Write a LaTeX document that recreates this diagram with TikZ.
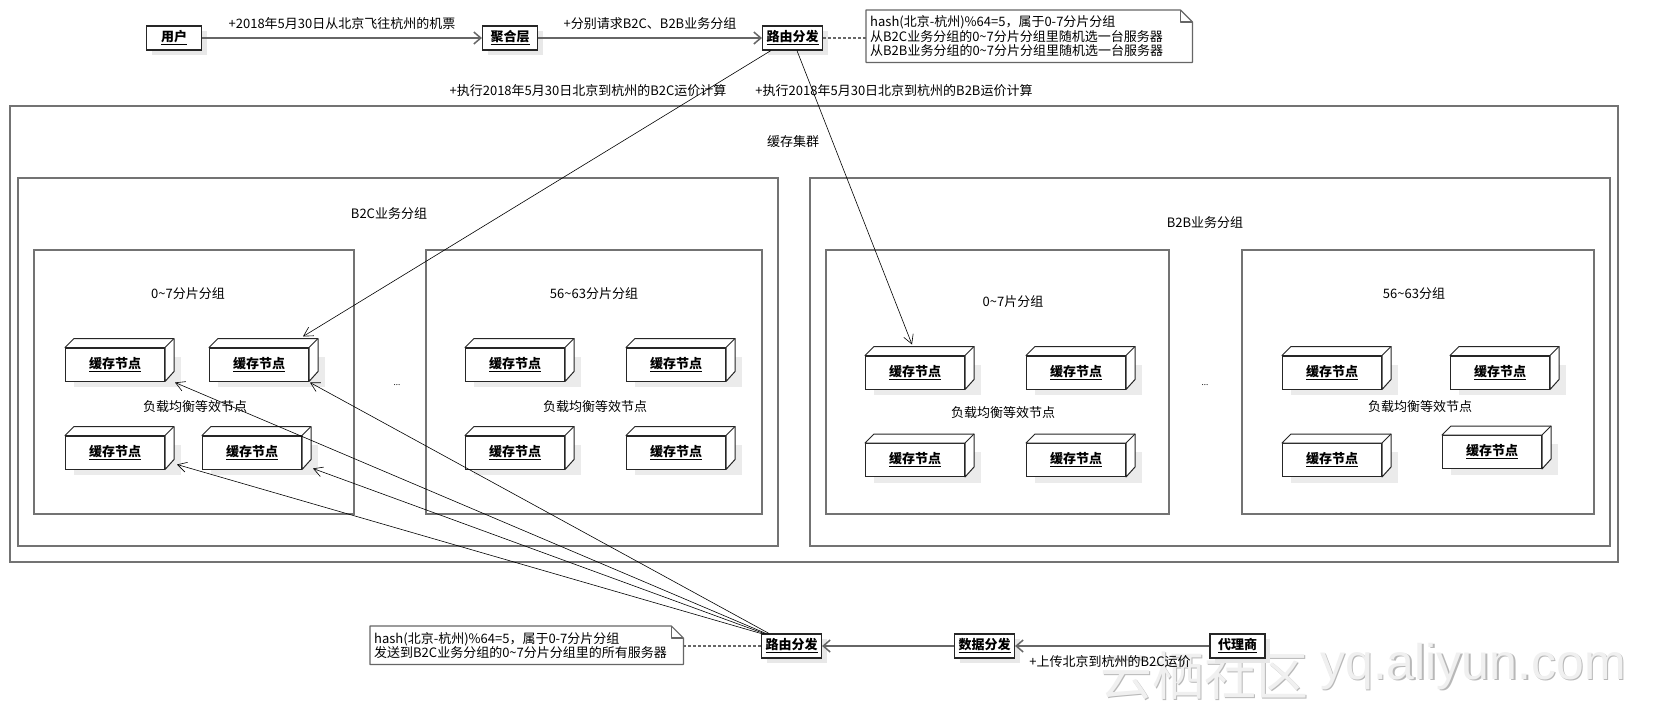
\documentclass[tikz,border=0pt]{standalone}
\usepackage{fontspec}
\setmainfont{Noto Sans CJK SC}
\newfontfamily\wmfont{Liberation Sans}
\usetikzlibrary{arrows.meta,calc,shadows,backgrounds}
\newcommand\mkcache[3]{%
  \fill[black!8] (#2-41,#3-8) rectangle (#2+66,#3+22.5);
  \node[cnode] (#1) at (#2,#3) {\underline{缓存节点}};
  \filldraw[cedge] (#1.north west) -- ++(9,-9) -- ($(#1.north east)+(9,-9)$) -- ++(0,33) -- (#1.south east) -- (#1.north east) -- cycle;
  \draw[cedge] (#1.north east) -- ++(9,-9);
}
\newcommand\mknote[1]{%
  \draw[notel] (#1.north west) -- ($(#1.north east)+(-12,0)$) -- ($(#1.north east)+(0,12)$) -- (#1.south east) -- (#1.south west) -- cycle;
  \draw[notel, fill=none] ($(#1.north east)+(-12,0)$) -- ($(#1.north east)+(-12,12)$) -- ($(#1.north east)+(0,12)$);
}
\begin{document}
\begin{tikzpicture}[x=1pt,y=-1pt,
  font=\fontsize{13}{14.2}\selectfont,
  grp/.style={draw=black!55, line width=1.4pt},
  lbl/.style={inner sep=0pt, anchor=center},
  ubox/.style={draw=black!85, line width=1.1pt, fill=white, minimum width=55pt, minimum height=24pt, inner xsep=4pt, inner ysep=2pt, font=\fontsize{13}{14}\selectfont\bfseries, drop shadow={shadow xshift=5pt, shadow yshift=-5pt, fill=black!9, opacity=1}},
  cnode/.style={draw=black!85, line width=1pt, fill=white, minimum width=99pt, minimum height=33pt, inner sep=0pt, font=\fontsize{13}{14}\selectfont\bfseries},
  cedge/.style={draw=black!85, fill=white, line width=1pt, line join=round},
  flow/.style={draw=black!60, line width=1.5pt, -{Straight Barb[length=7pt,width=12pt]}},
  thin/.style={draw=black, line width=0.6pt, -{Straight Barb[length=9pt,width=10pt]}},
  dotl/.style={draw=black!60, line width=1.2pt, dash pattern=on 2.5pt off 2.5pt},
  notebox/.style={inner xsep=4pt, inner ysep=0pt, align=left},
  notel/.style={draw=black!60, line width=1.2pt, fill=white, line join=round},
  wmcn/.style={inner sep=0pt, anchor=base west, font=\fontsize{52}{52}\selectfont},
  wmen/.style={inner sep=0pt, anchor=base west, font=\wmfont\fontsize{50}{50}\selectfont}
]
\begin{pgfonlayer}{background}
\fill[white] (0,0) rectangle (1658,707);
\end{pgfonlayer}
\useasboundingbox (0,0) rectangle (1658,707);

% watermark (light outline effect)
\node[wmcn, text=black!28] (wm1s) at (1101.5,696.5) {云栖社区};
\node[wmen, text=black!28] (wm2s) at (1321.5,680.5) {yq.aliyun.com};
\node[wmcn, text=black!6] (wm1) at (1100,695) {云栖社区};
\node[wmen, text=black!6] (wm2) at (1320,679) {yq.aliyun.com};

% group boxes
\draw[grp] (10,106) rectangle (1618,562);
\draw[grp] (18,178) rectangle (778,546);
\draw[grp] (810,178) rectangle (1610,546);
\draw[grp] (34,250) rectangle (354,514);
\draw[grp] (426,250) rectangle (762,514);
\draw[grp] (826,250) rectangle (1169,514);
\draw[grp] (1242,250) rectangle (1594,514);

% group labels
\node[lbl] (lcl) at (793,142) {缓存集群};
\node[lbl] (lb2c) at (389,214) {B2C业务分组};
\node[lbl] (lb2b) at (1205,223) {B2B业务分组};
\node[lbl] (l1) at (188,294) {0\textasciitilde7分片分组};
\node[lbl] (l2) at (594,294) {56\textasciitilde63分片分组};
\node[lbl] (l3) at (1013,302) {0\textasciitilde7片分组};
\node[lbl] (l4) at (1414,294) {56\textasciitilde63分组};
\node[lbl] (e1) at (195,407) {负载均衡等效节点};
\node[lbl] (e2) at (595,407) {负载均衡等效节点};
\node[lbl] (e3) at (1003,413) {负载均衡等效节点};
\node[lbl] (e4) at (1420,407) {负载均衡等效节点};
\node[lbl, font=\fontsize{8}{8}\selectfont] (d1) at (397,385) {...};
\node[lbl, font=\fontsize{8}{8}\selectfont] (d2) at (1205,385) {...};

% cache nodes
\mkcache{ca}{115}{364.5}
\mkcache{cb}{259}{364.5}
\mkcache{cc}{115}{452.5}
\mkcache{cd}{252}{452.5}
\mkcache{ce}{515}{364.5}
\mkcache{cf}{676}{364.5}
\mkcache{cg}{515}{452.5}
\mkcache{ch}{676}{452.5}
\mkcache{ka}{915}{372.5}
\mkcache{kb}{1076}{372.5}
\mkcache{kc}{915}{460}
\mkcache{kd}{1076}{460}
\mkcache{ke}{1332}{372.5}
\mkcache{kf}{1500}{372.5}
\mkcache{kg}{1332}{460}
\mkcache{kh}{1492}{452}

% top row
\node[ubox] (user) at (174,38) {\underline{用户}};
\node[ubox] (agg) at (510,38) {\underline{聚合层}};
\node[ubox] (rt) at (792.5,38) {\underline{路由分发}};
\node[notebox, text width=318pt, minimum height=52pt, anchor=north west] (n1) at (866,10)
  {hash(北京-杭州)\%64=5，属于0-7分片分组\\从B2C业务分组的0\textasciitilde7分片分组里随机选一台服务器\\从B2B业务分组的0\textasciitilde7分片分组里随机选一台服务器};
\begin{pgfonlayer}{background}
\mknote{n1}
\end{pgfonlayer}

\node[lbl] (t1) at (342,24) {+2018年5月30日从北京飞往杭州的机票};
\node[lbl] (t2) at (650,24) {+分别请求B2C、B2B业务分组};
\node[lbl] (t3) at (588,91) {+执行2018年5月30日北京到杭州的B2C运价计算};
\node[lbl] (t4) at (894,91) {+执行2018年5月30日北京到杭州的B2B运价计算};

\draw[flow] (user) -- (agg);
\draw[flow] (agg) -- (rt);
\draw[dotl] (rt.east) -- (rt.east -| n1.west);

% bottom row
\node[ubox] (rtb) at (791.5,646) {\underline{路由分发}};
\node[ubox] (ds) at (984.5,646) {\underline{数据分发}};
\node[ubox] (dl) at (1237.5,646) {\underline{代理商}};
\node[notebox, text width=305pt, minimum height=38pt, anchor=north west] (n2) at (370,626)
  {hash(北京-杭州)\%64=5，属于0-7分片分组\\发送到B2C业务分组的0\textasciitilde7分片分组里的所有服务器};
\begin{pgfonlayer}{background}
\mknote{n2}
\end{pgfonlayer}
\node[lbl] (t5) at (1110,662) {+上传北京到杭州的B2C运价};

\draw[flow] (dl) -- (ds);
\draw[flow] (ds) -- (rtb);
\draw[dotl] (rtb.west) -- (rtb.west -| n2.east);

% diagonal arrows
\draw[thin] ($(rt.south west)+(9,0)$) -- ($(cb.north east)+(-6,-11)$);
\draw[thin] ($(rt.south west)+(35,0)$) -- ($(ka.north)+(-3,-11)$);
\draw[thin] ($(rtb.north west)+(5,0)$) -- ($(ca.south east)+(10,1)$);
\draw[thin] ($(rtb.north west)+(8,0)$) -- ($(cb.south east)+(1,1)$);
\draw[thin] ($(rtb.north west)+(0,0)$) -- ($(cc.south east)+(12,-5)$);
\draw[thin] ($(rtb.north west)+(3,0)$) -- ($(cd.south east)+(11,-1)$);
\end{tikzpicture}
\end{document}
